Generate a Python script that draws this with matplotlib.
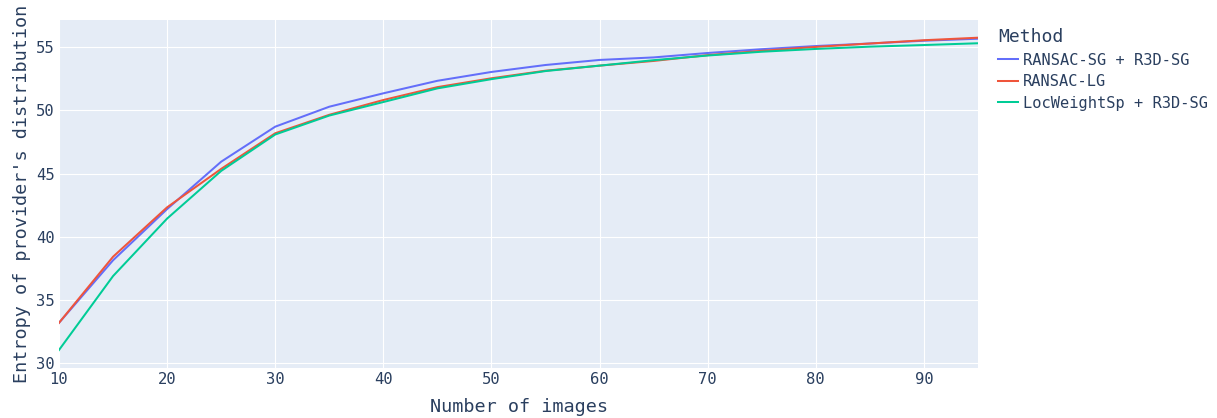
import matplotlib
matplotlib.use("Agg")
import matplotlib.pyplot as plt
from matplotlib.lines import Line2D

num_images = [10, 15, 20, 25, 30, 35, 40, 45, 50, 55, 60, 65, 70, 75, 80, 85, 90, 95]

ransac_sg_r3d = [33.2, 38.15, 42.2, 45.95, 48.72, 50.3, 51.36, 52.35, 53.05, 53.6,
                 54.0, 54.2, 54.55, 54.85, 55.1, 55.3, 55.52, 55.68]
ransac_lg = [33.2, 38.43, 42.34, 45.38, 48.2, 49.66, 50.83, 51.85, 52.55, 53.15,
             53.55, 53.92, 54.38, 54.72, 55.03, 55.3, 55.56, 55.76]
locweight_r3d = [31.05, 36.9, 41.45, 45.22, 48.1, 49.6, 50.67, 51.75, 52.48, 53.12,
                 53.55, 53.98, 54.35, 54.65, 54.87, 55.05, 55.18, 55.32]

series_names = ["RANSAC-SG + R3D-SG", "RANSAC-LG", "LocWeightSp + R3D-SG"]
series_values = [ransac_sg_r3d, ransac_lg, locweight_r3d]
series_colors = ["#636EFA", "#EF553B", "#00CC96"]

x_ticks = [10, 20, 30, 40, 50, 60, 70, 80, 90]
y_ticks = [30, 35, 40, 45, 50, 55]

text_color = "#2a3f5f"
mono = ["DejaVu Sans Mono"]

fig = plt.figure(figsize=(12.17, 4.18), dpi=100)
ax = fig.add_axes([59 / 1217, 1 - 367.7 / 418, (978 - 59) / 1217, (367.7 - 20) / 418])
ax.set_facecolor("#E5ECF6")

for name, vals, col in zip(series_names, series_values, series_colors):
    ax.plot(num_images, vals, color=col, lw=1.45, solid_joinstyle="round")

ax.set_xlim(10, 95)
ax.set_ylim(29.65, 57.16)
ax.set_xticks(x_ticks)
ax.set_yticks(y_ticks)
ax.grid(True, color="white", lw=0.8)
ax.set_axisbelow(True)
for s in ax.spines.values():
    s.set_visible(False)
ax.tick_params(length=0, labelsize=11.2, labelcolor=text_color, pad=3)
for lab in ax.get_xticklabels() + ax.get_yticklabels():
    lab.set_family(mono)

ax.set_xlabel("Number of images", fontsize=13.3, color=text_color, family=mono, labelpad=8)
ax.set_ylabel("Entropy of provider's distribution", fontsize=13.3, color=text_color,
              family=mono, labelpad=4)

handles = [Line2D([0], [0], color=c, lw=1.45) for c in series_colors]
leg = fig.legend(handles, series_names, loc="upper left", bbox_to_anchor=(992 / 1217, 1 - 22 / 418),
                 frameon=False, title="Method", alignment="left",
                 prop={"family": mono, "size": 11.1}, handlelength=1.3, handletextpad=0.3,
                 labelspacing=0.42, borderaxespad=0)
leg.get_title().set_fontsize(13)
leg.get_title().set_family(mono)
leg.get_title().set_color(text_color)
for t in leg.get_texts():
    t.set_color(text_color)

fig.savefig("out.png", dpi=100, facecolor="white")
